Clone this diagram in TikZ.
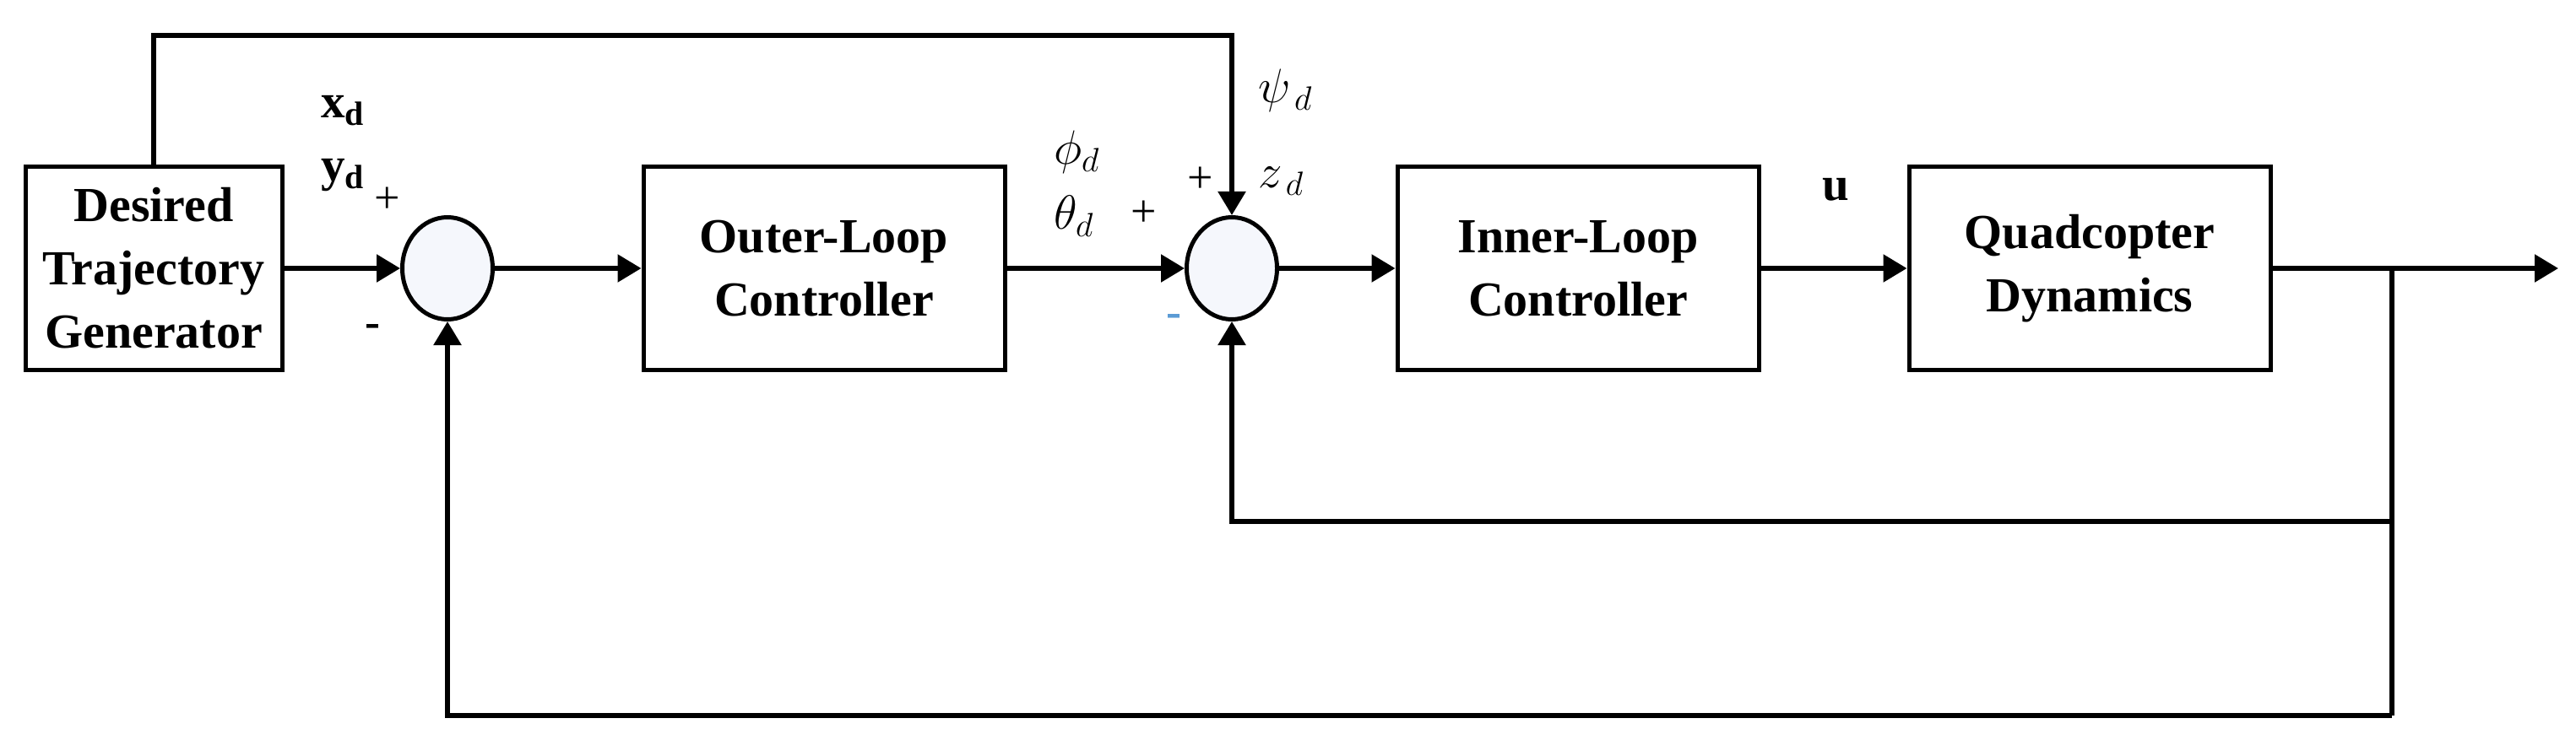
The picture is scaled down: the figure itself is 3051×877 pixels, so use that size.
\RequirePackage{fix-cm}
\documentclass[tikz,border=0pt]{standalone}
\usepackage{fontspec}
\setmainfont{Liberation Serif}
\usetikzlibrary{arrows.meta,shapes.geometric}
\definecolor{sumfill}{RGB}{245,247,252}
\definecolor{minusblue}{RGB}{91,155,213}
\tikzset{
  blk/.style={draw, line width=5pt, minimum width=428pt, minimum height=241pt, inner sep=0pt, align=center, font=\fontsize{58}{75}\selectfont\bfseries},
  sumnode/.style={draw, ellipse, line width=5pt, fill=sumfill, minimum width=107pt, minimum height=121pt, inner sep=0pt},
  wire/.style={line width=5.5pt},
  arr/.style={line width=5.5pt, -{Triangle[length=28pt,width=32pt]}},
  lbl/.style={inner sep=0pt, anchor=base west, font=\fontsize{57}{60}\selectfont},
  sgn/.style={inner sep=0pt, font=\fontsize{54}{58}\selectfont}
}
\begin{document}
\begin{tikzpicture}[x=1pt,y=-1pt]
\useasboundingbox (0,0) rectangle (3051,877);
% blocks
\node[blk, minimum width=304pt] (dtg) at (182,318) {Desired\\Trajectory\\Generator};
\node[blk] (outer) at (976,318) {Outer-Loop\\Controller};
\node[blk] (inner) at (1869,318) {Inner-Loop\\Controller};
\node[blk] (quad) at (2475,318) {Quadcopter\\Dynamics};
\node[sumnode] (s1) at (530,318) {};
\node[sumnode] (s2) at (1459,318) {};
% coordinates
\coordinate (tl) at (182,42);
\coordinate (tr) at (1459,42);
\coordinate (out) at (3030,318);
\coordinate (br) at (2833,318);
\coordinate (b2) at (2833,618);
\coordinate (b1) at (2833,848);
% connectors
\draw[arr] (dtg.east) -- (s1.west);
\draw[arr] (s1.east) -- (outer.west);
\draw[arr] (outer.east) -- (s2.west);
\draw[arr] (s2.east) -- (inner.west);
\draw[arr] (inner.east) -- (quad.west);
\draw[arr] (quad.east) -- (out);
\draw[arr] (dtg.north) -- (tl) -- (tr) -- (s2.north);
\draw[wire] (br) -- (b1);
\draw[arr] (b1) -| (s1.south);
\draw[arr] (b2) -| (s2.south);
% labels
\node[lbl] (xd) at (380,140) {\textbf{x}\textsubscript{\textbf{d}}};
\node[lbl] (yd) at (380,215) {\textbf{y}\textsubscript{\textbf{d}}};
\node[sgn] (p1) at (459,237) {+};
\node[sgn] (m1) at (441,392) {\textbf{-}};
\node[lbl] (phid) at (1248,195) {$\phi_d$};
\node[lbl] (thetad) at (1248,272) {$\theta_d$};
\node[sgn] (p2) at (1355,253) {+};
\node[sgn] (p3) at (1422,213) {+};
\node[lbl] (psid) at (1490,122) {$\psi_{\,d}$};
\node[lbl] (zd) at (1490,223) {$z_{\,d}$};
\node[sgn, text=minusblue] (m2) at (1390,380) {\textbf{-}};
\node[lbl, anchor=base] (u) at (2174,238) {\textbf{u}};
\end{tikzpicture}
\end{document}
